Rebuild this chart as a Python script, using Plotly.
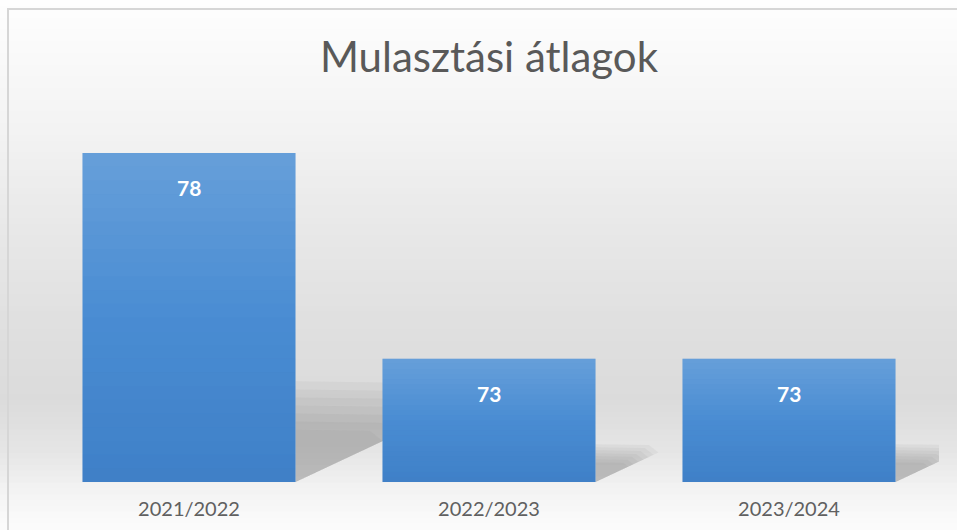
import plotly.graph_objects as go

# ---- data ----
categories = ["2021/2022", "2022/2023", "2023/2024"]
values = [78, 73, 73]
title_text = "Mulasztási átlagok"

# ---- layout geometry (pixels) ----
W, H = 957, 530
L, R, T, B = 39, 18, 112, 48
PW, PH = W - L - R, H - T - B
Y0, Y1 = 70, 79


def px_to_paper(px, py):
    return (px - L) / PW, (H - B - py) / PH


def hexc(c):
    return tuple(int(c[i:i + 2], 16) for i in (1, 3, 5))


shapes = []

# background vertical gradient (decoration)
stops = [(0, "#ffffff"), (9, "#fdfdfd"), (120, "#f4f4f4"), (220, "#e9e9e9"),
         (320, "#e0e0e0"), (400, "#dbdbdb"), (450, "#e5e5e5"), (490, "#f3f3f3"),
         (530, "#fcfcfc")]
N = 90
for k in range(N):
    ya, yb = H * k / N, H * (k + 1) / N
    ym = (ya + yb) / 2
    for (s0, c0), (s1, c1) in zip(stops[:-1], stops[1:]):
        if s0 <= ym <= s1:
            t = (ym - s0) / (s1 - s0)
            a, b = hexc(c0), hexc(c1)
            col = "rgb(%d,%d,%d)" % tuple(round(a[i] + (b[i] - a[i]) * t) for i in range(3))
            break
    x0, y0 = px_to_paper(0, yb + 0.5)
    x1, y1 = px_to_paper(W, ya - 0.5)
    shapes.append(dict(type="rect", xref="paper", yref="paper", x0=x0, x1=x1,
                       y0=y0, y1=y1, fillcolor=col, line=dict(width=0), layer="below"))

# chart frame
fx0, fy0 = px_to_paper(8, 540)
fx1, fy1 = px_to_paper(975, 9)
shapes.append(dict(type="rect", xref="paper", yref="paper", x0=fx0, x1=fx1, y0=fy0, y1=fy1,
                   line=dict(color="#d6d6d6", width=2), fillcolor="rgba(0,0,0,0)", layer="below"))

# soft perspective shadows derived from bar heights (layered for blur)
bar_w = 0.71
for i, v in enumerate(values):
    h = v - Y0
    xr = i + bar_w / 2
    for spread in [1.25, 1.15, 1.05, 0.95, 0.85, 0.75, 0.65]:
        dx = 0.056 * h * spread
        dy = 0.24 * h * spread
        path = "M %f,%f L %f,%f L %f,%f L %f,%f Z" % (
            xr, Y0, xr + dx, Y0 + dy * 0.8, xr + dx * 0.85, Y0 + dy, xr, Y0 + dy * 1.02)
        shapes.append(dict(type="path", xref="x", yref="y", path=path,
                           fillcolor="rgba(110,110,110,0.07)",
                           line=dict(width=0), layer="below"))

# subtle vertical shading over each bar (lighter top, darker bottom)
S = 24
for i, v in enumerate(values):
    for k in range(S):
        f = (k + 0.5) / S  # 0 bottom -> 1 top
        ya = Y0 + (v - Y0) * k / S
        yb = Y0 + (v - Y0) * (k + 1) / S
        if f >= 0.5:
            col = "rgba(255,255,255,%.3f)" % (0.16 * (f - 0.5) * 2)
        else:
            col = "rgba(10,60,140,%.3f)" % (0.16 * (0.5 - f) * 2)
        shapes.append(dict(type="rect", xref="x", yref="y",
                           x0=i - bar_w / 2, x1=i + bar_w / 2, y0=ya, y1=yb,
                           fillcolor=col, line=dict(width=0), layer="above"))

fig = go.Figure()
fig.add_trace(go.Bar(
    x=list(range(len(categories))), y=values, width=bar_w,
    marker=dict(color="#4a8dd3", line=dict(width=0)),
    hoverinfo="x+y",
))

annotations = [dict(x=i, y=v, xref="x", yref="y", text="<b>%d</b>" % v, showarrow=False,
                    yanchor="top", yshift=-20, font=dict(family="Lato", size=21, color="white"))
               for i, v in enumerate(values)]

fig.update_layout(
    width=W, height=H,
    margin=dict(l=L, r=R, t=T, b=B, autoexpand=False),
    paper_bgcolor="white", plot_bgcolor="rgba(0,0,0,0)",
    title=dict(text=title_text, x=0.5, xref="paper", xanchor="center",
               y=1 - 57 / H, yref="container", yanchor="middle",
               font=dict(family="Lato", size=42, color="#595959")),
    xaxis=dict(tickmode="array", tickvals=list(range(len(categories))), ticktext=categories,
               range=[-0.5, len(categories) - 0.5], showgrid=False, zeroline=False,
               showline=False, ticks="", ticklabelstandoff=13, automargin=False,
               tickfont=dict(family="Lato", size=20, color="#606060")),
    yaxis=dict(range=[Y0, Y1], visible=False, showgrid=False, zeroline=False, automargin=False),
    shapes=shapes, annotations=annotations,
    showlegend=False,
)

fig.write_html("out.html", config={"displayModeBar": False},
               post_script="document.body.style.margin='0';document.body.style.overflow='hidden';")
